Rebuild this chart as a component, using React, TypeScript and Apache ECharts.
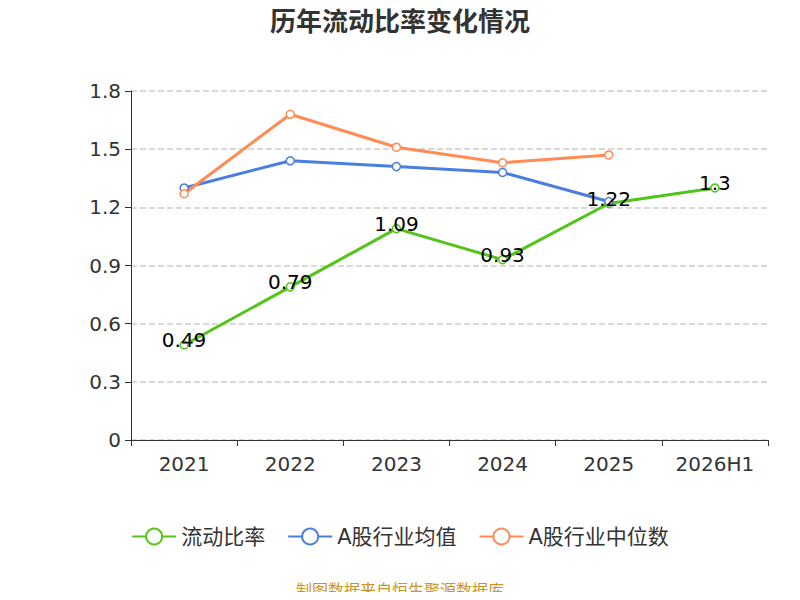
import { useEffect, useRef } from "react"
import * as echarts from "echarts"

const categories = ["2021", "2022", "2023", "2024", "2025", "2026H1"]
const ratio = [0.49, 0.79, 1.09, 0.93, 1.22, 1.3]
const industryMean = [1.3, 1.44, 1.41, 1.38, 1.23, null]
const industryMedian = [1.27, 1.68, 1.51, 1.43, 1.47, null]

export default function App() {
  const ref = useRef<HTMLDivElement>(null)

  useEffect(() => {
    if (!ref.current) return
    const chart = echarts.init(ref.current, null, { renderer: "svg" })
    const font = "'DejaVu Sans', 'Noto Sans CJK SC', sans-serif"
    const mk = (name: string, data: (number | null)[], color: string, label: boolean) => ({
      name,
      type: "line",
      data,
      symbol: "circle",
      symbolSize: 8,
      lineStyle: { width: 3, color },
      itemStyle: { color: "#fff", borderColor: color, borderWidth: 1.5 },
      label: label
        ? { show: true, position: "top", offset: [0, 15], fontSize: 20, color: "#000", fontFamily: font }
        : { show: false },
    })
    chart.setOption({
      animation: false,
      textStyle: { fontFamily: font },
      title: {
        text: "历年流动比率变化情况",
        left: "center",
        top: 4,
        textStyle: { fontSize: 26, fontWeight: "bold", color: "#333", fontFamily: font },
      },
      legend: {
        bottom: 48,
        itemWidth: 44,
        itemHeight: 20,
        itemGap: 22,
        textStyle: { fontSize: 21, color: "#333", fontFamily: font },
        data: ["流动比率", "A股行业均值", "A股行业中位数"],
      },
      grid: { left: 131, right: 32, top: 91, bottom: 160 },
      xAxis: {
        type: "category",
        data: categories,
        axisTick: { show: true, length: 6 },
        axisLine: { lineStyle: { color: "#333" } },
        axisLabel: { fontSize: 20, color: "#333", margin: 14, fontFamily: font },
      },
      yAxis: {
        type: "value",
        min: 0,
        max: 1.8,
        interval: 0.3,
        axisLine: { show: true, lineStyle: { color: "#333" } },
        axisTick: { show: true, length: 6 },
        axisLabel: { fontSize: 20, color: "#333", margin: 10, fontFamily: font },
        splitLine: { lineStyle: { type: "dashed", color: "#ccc", width: 1.5 } },
      },
      graphic: [
        {
          type: "text",
          left: "center",
          bottom: 2,
          style: { text: "制图数据来自恒生聚源数据库", fontSize: 16, fill: "#c8962a", fontFamily: font },
        },
      ],
      series: [
        mk("流动比率", ratio, "#52c41a", true),
        mk("A股行业均值", industryMean, "#4a7fe0", false),
        mk("A股行业中位数", industryMedian, "#ff8c55", false),
      ],
    })
    return () => chart.dispose()
  }, [])

  return <div ref={ref} style={{ width: 800, height: 600, margin: -8 }} />
}
